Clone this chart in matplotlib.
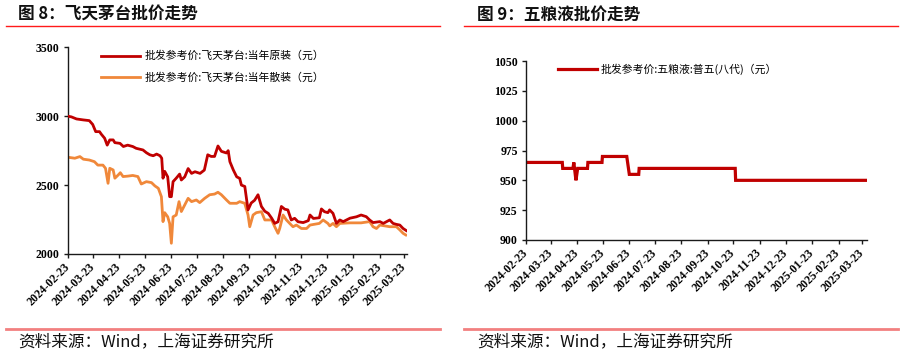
import matplotlib
matplotlib.use('Agg')
import matplotlib.pyplot as plt
from matplotlib.lines import Line2D
import pandas as pd

plt.rcParams['font.family'] = ['Noto Sans CJK SC', 'DejaVu Sans']

START = pd.Timestamp('2024-02-23')

# Feitian Moutai, original box (days since START, yuan)
mt_orig_days = [0, 4, 10, 18, 25, 29, 32.5, 37, 39, 43, 46, 49, 53, 55, 61, 65, 70, 76, 80,
                88, 92, 96, 100, 104, 108, 110, 111.5, 113.5, 117, 119.3, 121.3, 123.3, 127,
                131, 133, 137, 141, 145, 149, 155, 160, 164, 168, 172, 176, 180, 186, 188,
                190, 194, 198, 201.5, 203.5, 207.5, 211.3, 215, 219, 223, 227, 231, 235,
                239, 242.6, 246.5, 250.4, 254.4, 258, 262, 266, 270, 276, 282, 284, 288,
                295, 297.4, 301, 305, 307, 311, 315, 319, 323, 331, 338.5, 344, 350, 354,
                358, 366, 370, 377.6, 381.5, 385.4, 389.4, 393.3, 397]
mt_orig_vals = [3000, 2995, 2980, 2973, 2968, 2940, 2888, 2888, 2870, 2840, 2790, 2828, 2828,
                2808, 2803, 2780, 2790, 2780, 2767, 2755, 2735, 2720, 2713, 2725, 2713, 2695,
                2550, 2600, 2560, 2416, 2416, 2525, 2550, 2580, 2537, 2560, 2620, 2585, 2597,
                2585, 2609, 2720, 2708, 2708, 2784, 2745, 2733, 2750, 2670, 2610, 2560, 2549,
                2500, 2490, 2320, 2370, 2390, 2430, 2345, 2310, 2295, 2260, 2222, 2234, 2345,
                2325, 2320, 2247, 2259, 2234, 2228, 2242, 2283, 2258, 2263, 2327, 2307, 2300,
                2320, 2295, 2222, 2247, 2235, 2260, 2270, 2283, 2271, 2247, 2228, 2235, 2222,
                2247, 2222, 2215, 2210, 2185, 2170]

# Feitian Moutai, loose bottle (days since START, yuan)
mt_bulk_days = [0, 8, 14, 18, 25, 31, 35, 41, 44, 47, 49, 53, 55, 59, 61.4, 64.6, 70, 76, 82,
                86, 92, 98, 102, 106, 109.6, 111.5, 113.5, 117, 119.3, 121.3, 123.3, 127,
                130.3, 133, 137, 141, 145, 150.6, 154.6, 160.4, 166.3, 172, 176, 180, 186,
                190, 198, 201.5, 207.4, 211.3, 213.3, 217.2, 221, 227, 231, 239, 242.6,
                246.5, 248.5, 252.4, 256.3, 260.2, 264, 268, 274, 280, 284, 295, 299.4, 305,
                307.2, 311, 315, 319, 331, 344, 354, 358, 362, 366, 377.6, 385.4, 389.4,
                393.3, 396.5]
mt_bulk_vals = [2702, 2695, 2707, 2688, 2682, 2670, 2645, 2645, 2622, 2513, 2622, 2610, 2550,
                2574, 2590, 2562, 2565, 2570, 2562, 2508, 2525, 2518, 2494, 2477, 2416, 2235,
                2300, 2270, 2222, 2078, 2270, 2283, 2380, 2308, 2356, 2404, 2380, 2392, 2373,
                2404, 2430, 2435, 2448, 2430, 2392, 2368, 2368, 2380, 2368, 2283, 2198, 2283,
                2300, 2307, 2247, 2247, 2198, 2150, 2186, 2283, 2247, 2222, 2198, 2210, 2185,
                2185, 2210, 2222, 2247, 2222, 2204, 2222, 2198, 2222, 2226, 2226, 2235, 2198,
                2185, 2210, 2198, 2198, 2175, 2150, 2138]

# Wuliangye Puwu (8th gen) (days since START, yuan)
wly_days = [0, 42.5, 43, 55, 56, 58.5, 60.5, 72, 72.5, 89, 89.5, 118, 119, 121, 132, 132.5,
            245, 245.5, 398.5]
wly_vals = [965, 965, 960, 960, 965, 950, 960, 960, 965, 965, 970, 970, 965, 955, 955, 960,
            960, 950, 950]

tick_labels = ['2024-02-23', '2024-03-23', '2024-04-23', '2024-05-23', '2024-06-23',
               '2024-07-23', '2024-08-23', '2024-09-23', '2024-10-23', '2024-11-23',
               '2024-12-23', '2025-01-23', '2025-02-23', '2025-03-23']

legend_mt_orig = '批发参考价:飞天茅台:当年原装（元）'
legend_mt_bulk = '批发参考价:飞天茅台:当年散装（元）'
legend_wly = '批发参考价:五粮液:普五(八代)（元）'
title_left = '图 8：飞天茅台批价走势'
title_right = '图 9：五粮液批价走势'
source = '资料来源：Wind，上海证券研究所'

W, H = 904, 356
fig = plt.figure(figsize=(W / 100, H / 100), dpi=100)


def to_dates(days):
    return [START + pd.Timedelta(days=float(d)) for d in days]


def fx(px):
    return px / W


def fy(py):
    return 1 - py / H


tick_dates = pd.to_datetime(tick_labels)
num_font = dict(family='Liberation Serif', weight='bold', size=8.5)


def style_axes(ax, yticks, xend_days):
    for s in ['top', 'right']:
        ax.spines[s].set_visible(False)
    for s in ['left', 'bottom']:
        ax.spines[s].set_linewidth(1.0)
        ax.spines[s].set_color('#1a1a1a')
    ax.set_xlim(START, START + pd.Timedelta(days=xend_days))
    ax.set_xticks(tick_dates)
    ax.set_xticklabels(tick_labels, rotation=45, ha='right', va='center',
                       rotation_mode='anchor', fontdict=num_font)
    ax.set_yticks(yticks)
    ax.set_yticklabels([str(v) for v in yticks], fontdict=num_font)
    ax.set_ylim(yticks[0], yticks[-1])
    ax.tick_params(axis='both', direction='out', length=3, width=1, color='#1a1a1a', pad=3)
    ax.tick_params(axis='x', pad=5)


# Left chart
axL = fig.add_axes([fx(68), fy(254), fx(406.7) - fx(68), fy(47.3) - fy(254)])
axL.plot(to_dates(mt_orig_days), mt_orig_vals, color='#C00000', lw=2.0,
         solid_joinstyle='round', label=legend_mt_orig, zorder=3)
axL.plot(to_dates(mt_bulk_days), mt_bulk_vals, color='#F0883A', lw=2.0,
         solid_joinstyle='round', label=legend_mt_bulk, zorder=2)
style_axes(axL, [2000, 2500, 3000, 3500], 397.5)
axL.legend(loc='upper left', bbox_to_anchor=(0.07, 1.03), frameon=False,
           handlelength=3.6, handletextpad=0.35, labelspacing=1.05,
           prop=dict(family='Noto Sans CJK SC', size=7.8))

# Right chart
axR = fig.add_axes([fx(526), fy(240), fx(866.7) - fx(526), fy(61) - fy(240)])
axR.plot(to_dates(wly_days), wly_vals, color='#C00000', lw=2.3,
         solid_joinstyle='miter', label=legend_wly)
style_axes(axR, [900, 925, 950, 975, 1000, 1025, 1050], 399)
axR.legend(loc='upper left', bbox_to_anchor=(0.065, 1.04), frameon=False,
           handlelength=3.6, handletextpad=0.35,
           prop=dict(family='Noto Sans CJK SC', size=7.8))

# Titles and rules
fig.text(fx(18), fy(15), title_left, fontsize=12, fontweight='bold',
         va='center', ha='left', color='#111111')
fig.text(fx(477), fy(15), title_right, fontsize=12, fontweight='bold',
         va='center', ha='left', color='#111111')
for x0, x1 in [(6, 440), (464, 898)]:
    fig.add_artist(Line2D([fx(x0), fx(x1)], [fy(25.7), fy(25.7)], color='#FF1A1A', lw=1.0))
    fig.add_artist(Line2D([fx(x0), fx(x1)], [fy(329), fy(329)], color='#F28080', lw=2.0))

fig.text(fx(18), fy(342), source, fontsize=12, va='center', ha='left',
         color='#111111', style='italic', fontweight='medium')
fig.text(fx(477), fy(342), source, fontsize=12, va='center', ha='left',
         color='#111111', style='italic', fontweight='medium')

fig.savefig('out.png', dpi=100)
